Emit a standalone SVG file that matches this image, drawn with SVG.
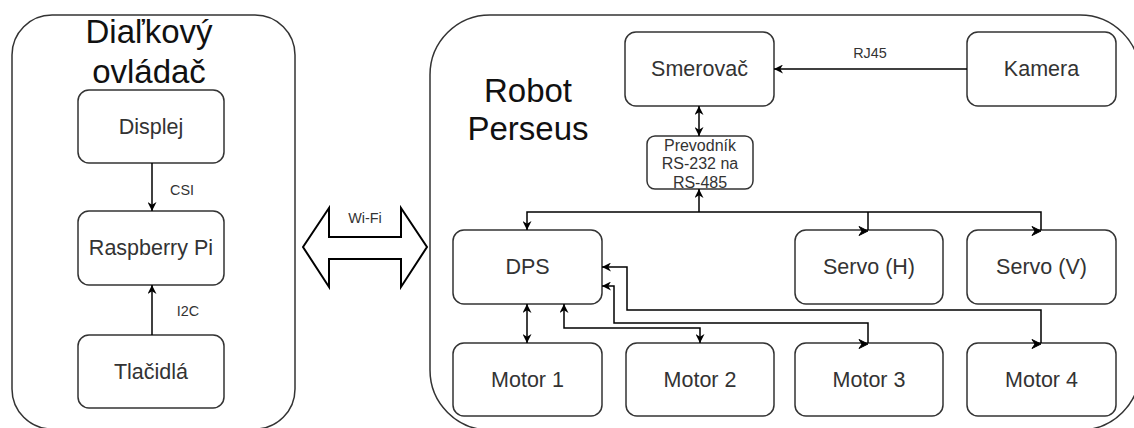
<svg xmlns="http://www.w3.org/2000/svg" width="1134" height="428" viewBox="0 0 1134 428">
<style>
.cont{fill:#fff;stroke:#333;stroke-width:1.5}
.box{fill:#fff;stroke:#333;stroke-width:1.5}
.lbl{font-family:"Liberation Sans",Arial,sans-serif;font-size:21.5px;fill:#333;text-anchor:middle;dominant-baseline:central}
.title{font-family:"Liberation Sans",Arial,sans-serif;font-size:33px;fill:#111;text-anchor:middle}
.small{font-family:"Liberation Sans",Arial,sans-serif;font-size:14.4px;fill:#333;text-anchor:middle;dominant-baseline:central}
.pre{font-family:"Liberation Sans",Arial,sans-serif;font-size:16px;fill:#333;text-anchor:middle;dominant-baseline:central}
.ln{fill:none;stroke:#000;stroke-width:1.5}
.ah{fill:#000;stroke:#000;stroke-width:1}
</style>
<defs>
<marker id="arr" viewBox="0 0 10 10" refX="10" refY="5" markerWidth="9" markerHeight="9" markerUnits="userSpaceOnUse" orient="auto-start-reverse">
<path d="M0,0 L10,5 L0,10 L3,5 z" fill="#000"/>
</marker>
</defs>
<rect width="1134" height="428" fill="#fff"/>

<g id="dialkovy-ovladac">
<rect class="cont" x="12" y="15" width="283" height="414" rx="40" ry="40"/>
<text class="title" x="149" y="43">Diaľkový</text>
<text class="title" x="149" y="83">ovládač</text>
</g>
<g id="robot-perseus">
<rect class="cont" x="430" y="15" width="710" height="415" rx="60" ry="60"/>
<text class="title" x="528" y="102">Robot</text>
<text class="title" x="528" y="140">Perseus</text>
</g>

<g id="displej"><rect class="box" x="78" y="90" width="146" height="73" rx="11"/><text class="lbl" x="151" y="126.5">Displej</text></g>
<g id="raspberry"><rect class="box" x="78" y="211" width="146" height="74" rx="11"/><text class="lbl" x="151" y="248">Raspberry Pi</text></g>
<g id="tlacidla"><rect class="box" x="78" y="335" width="146" height="73" rx="11"/><text class="lbl" x="151" y="371.5">Tlačidlá</text></g>

<g id="wifi">
<polygon points="303,247 329,208 329,237 401,237 401,208 427,247 401,287 401,259 329,259 329,287" fill="#fff" stroke="#000" stroke-width="2" stroke-linejoin="miter"/>
<text class="small" x="365" y="218">Wi-Fi</text>
</g>

<g id="smerovac"><rect class="box" x="625" y="32" width="149" height="74" rx="11"/><text class="lbl" x="699.5" y="69">Smerovač</text></g>
<g id="kamera"><rect class="box" x="967" y="32" width="149" height="74" rx="11"/><text class="lbl" x="1041.5" y="69">Kamera</text></g>
<g id="prevodnik"><rect class="box" x="647" y="136" width="106" height="53" rx="8"/>
<text class="pre" x="700" y="145">Prevodník</text><text class="pre" x="700" y="163.5">RS-232 na</text><text class="pre" x="700" y="182">RS-485</text></g>

<g id="dps"><rect class="box" x="453" y="230" width="149" height="74" rx="11"/><text class="lbl" x="527.5" y="267">DPS</text></g>
<g id="servo-h"><rect class="box" x="795" y="230" width="148" height="74" rx="11"/><text class="lbl" x="869" y="267">Servo (H)</text></g>
<g id="servo-v"><rect class="box" x="967" y="230" width="149" height="74" rx="11"/><text class="lbl" x="1041.5" y="267">Servo (V)</text></g>
<g id="motor1"><rect class="box" x="453" y="343" width="149" height="73" rx="11"/><text class="lbl" x="527.5" y="379.5">Motor 1</text></g>
<g id="motor2"><rect class="box" x="626" y="343" width="148" height="73" rx="11"/><text class="lbl" x="700" y="379.5">Motor 2</text></g>
<g id="motor3"><rect class="box" x="795" y="343" width="148" height="73" rx="11"/><text class="lbl" x="869" y="379.5">Motor 3</text></g>
<g id="motor4"><rect class="box" x="967" y="343" width="149" height="73" rx="11"/><text class="lbl" x="1041.5" y="379.5">Motor 4</text></g>

<g id="connectors">
<path class="ln" d="M152 163 V211" marker-end="url(#arr)"/>
<text class="small" x="182" y="190">CSI</text>
<path class="ln" d="M152 335 V285" marker-end="url(#arr)"/>
<text class="small" x="188" y="311">I2C</text>

<path class="ln" d="M967 69 H774" marker-end="url(#arr)"/>
<text class="small" x="870" y="53">RJ45</text>
<path class="ln" d="M699 106 V136" marker-start="url(#arr)" marker-end="url(#arr)"/>
<path class="ln" d="M699 212 V189" marker-end="url(#arr)"/>
<path class="ln" d="M527 230 V212 H1041 V230" marker-start="url(#arr)"/>
<path class="ln" d="M868 212 V230"/>
<polygon class="ah" points="859,226.5 868,231 859,235.5 862,231"/>
<polygon class="ah" points="1032,226.5 1041,231 1032,235.5 1035,231"/>

<path class="ln" d="M527 304 V343" marker-start="url(#arr)" marker-end="url(#arr)"/>
<path class="ln" d="M564 304 V328 H700 V343" marker-start="url(#arr)" marker-end="url(#arr)"/>
<path class="ln" d="M602 286 H614 V323 H868 V343" marker-start="url(#arr)"/>
<polygon class="ah" points="859,339.5 868,344 859,348.5 862,344"/>
<path class="ln" d="M602 267 H627 V310 H1041 V343" marker-start="url(#arr)"/>
<polygon class="ah" points="1032,339.5 1041,344 1032,348.5 1035,344"/>
</g>
</svg>
